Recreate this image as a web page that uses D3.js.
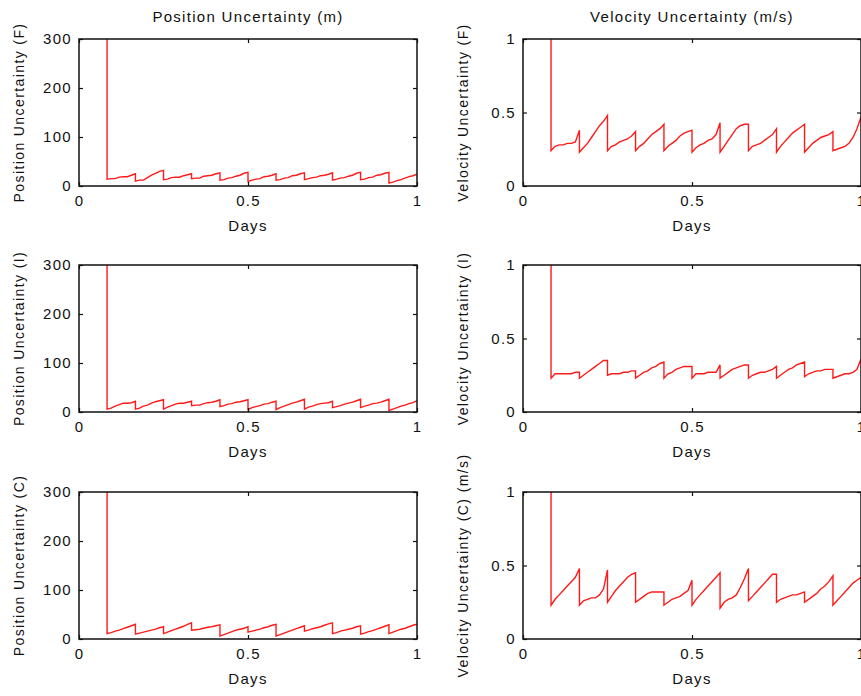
<!DOCTYPE html>
<html>
<head>
<meta charset="utf-8">
<script src="https://cdn.jsdelivr.net/npm/d3@7"></script>
<style>
  html, body { margin: 0; padding: 0; background: #fff; }
  svg { display: block; }
  text { font-family: "Liberation Sans", Arial, sans-serif; fill: #111; }
</style>
</head>
<body>
<script>
// Filter reset times (days): every two hours after the first fix
const resetDays = [0.083, 0.167, 0.25, 0.333, 0.417, 0.5, 0.583, 0.667, 0.75, 0.833, 0.917, 1.0];

const xTicks = [0, 0.5, 1];
const posTicks = [0, 100, 200, 300];
const velTicks = [0, 0.5, 1];

const posInitial = 300;
const velInitial = 1;

// Position uncertainty (m), one array per two-hour interval
const posF = [
  [14, 15, 15, 18, 19, 19, 22, 25],
  [10, 12, 12, 17, 22, 26, 30, 32],
  [13, 14, 17, 18, 18, 21, 23, 25],
  [15, 16, 16, 20, 21, 22, 25, 27],
  [12, 13, 16, 17, 20, 22, 26, 28],
  [9, 12, 14, 15, 19, 20, 22, 25],
  [12, 13, 16, 17, 21, 22, 25, 27],
  [13, 15, 17, 18, 21, 22, 24, 27],
  [12, 14, 16, 17, 20, 22, 26, 28],
  [13, 14, 17, 18, 22, 23, 26, 28],
  [6, 8, 11, 13, 16, 19, 21, 24]
];
const posI = [
  [6, 8, 12, 15, 18, 18, 19, 22],
  [6, 8, 12, 14, 18, 21, 23, 25],
  [6, 10, 13, 16, 18, 18, 20, 22],
  [13, 14, 14, 17, 19, 20, 22, 25],
  [11, 13, 16, 17, 20, 21, 23, 25],
  [5, 9, 11, 13, 16, 17, 20, 22],
  [5, 9, 12, 15, 18, 20, 23, 26],
  [6, 10, 12, 15, 17, 18, 19, 22],
  [9, 11, 13, 16, 18, 20, 23, 26],
  [9, 12, 14, 17, 18, 20, 23, 26],
  [3, 6, 9, 12, 14, 17, 19, 23]
];
const posC = [
  [11, 13, 16, 18, 21, 24, 27, 30],
  [10, 12, 14, 16, 18, 20, 23, 25],
  [11, 14, 17, 20, 23, 26, 30, 33],
  [18, 19, 20, 22, 24, 25, 27, 29],
  [6, 9, 12, 15, 18, 20, 22, 25],
  [14, 16, 18, 20, 23, 25, 28, 30],
  [6, 9, 12, 15, 18, 21, 24, 27],
  [16, 18, 21, 23, 25, 28, 31, 33],
  [11, 13, 16, 18, 20, 22, 25, 27],
  [10, 12, 15, 17, 20, 23, 26, 29],
  [11, 14, 17, 20, 22, 25, 28, 30]
];

// Velocity uncertainty (m/s), one array per two-hour interval
const velF = [
  [0.24, 0.27, 0.28, 0.28, 0.29, 0.29, 0.30, 0.38],
  [0.23, 0.26, 0.29, 0.33, 0.37, 0.41, 0.44, 0.48],
  [0.24, 0.27, 0.28, 0.30, 0.31, 0.32, 0.34, 0.37],
  [0.24, 0.27, 0.29, 0.32, 0.35, 0.37, 0.39, 0.42],
  [0.24, 0.27, 0.29, 0.31, 0.34, 0.36, 0.37, 0.38],
  [0.23, 0.26, 0.28, 0.29, 0.31, 0.32, 0.35, 0.43],
  [0.23, 0.27, 0.31, 0.35, 0.39, 0.41, 0.42, 0.42],
  [0.24, 0.27, 0.28, 0.29, 0.31, 0.33, 0.35, 0.39],
  [0.23, 0.27, 0.30, 0.33, 0.36, 0.38, 0.40, 0.42],
  [0.23, 0.26, 0.29, 0.31, 0.33, 0.34, 0.35, 0.37],
  [0.24, 0.25, 0.26, 0.27, 0.29, 0.33, 0.39, 0.47]
];
const velI = [
  [0.23, 0.26, 0.26, 0.26, 0.26, 0.26, 0.27, 0.27],
  [0.23, 0.25, 0.27, 0.29, 0.31, 0.33, 0.35, 0.35],
  [0.25, 0.26, 0.26, 0.26, 0.27, 0.27, 0.28, 0.28],
  [0.23, 0.25, 0.27, 0.28, 0.30, 0.31, 0.33, 0.34],
  [0.23, 0.26, 0.27, 0.29, 0.30, 0.31, 0.31, 0.31],
  [0.23, 0.26, 0.26, 0.26, 0.27, 0.27, 0.27, 0.32],
  [0.23, 0.25, 0.27, 0.29, 0.30, 0.31, 0.32, 0.32],
  [0.23, 0.25, 0.26, 0.27, 0.27, 0.28, 0.29, 0.31],
  [0.23, 0.25, 0.27, 0.29, 0.30, 0.32, 0.33, 0.34],
  [0.24, 0.26, 0.27, 0.28, 0.28, 0.29, 0.29, 0.29],
  [0.23, 0.24, 0.25, 0.26, 0.26, 0.27, 0.29, 0.36]
];
const velC = [
  [0.23, 0.27, 0.30, 0.33, 0.36, 0.39, 0.42, 0.48],
  [0.23, 0.26, 0.27, 0.28, 0.28, 0.30, 0.34, 0.47],
  [0.25, 0.29, 0.33, 0.36, 0.39, 0.42, 0.44, 0.45],
  [0.25, 0.27, 0.29, 0.31, 0.32, 0.32, 0.32, 0.32],
  [0.23, 0.25, 0.27, 0.28, 0.29, 0.31, 0.33, 0.40],
  [0.23, 0.27, 0.30, 0.33, 0.36, 0.39, 0.42, 0.45],
  [0.21, 0.25, 0.27, 0.28, 0.30, 0.35, 0.41, 0.48],
  [0.26, 0.29, 0.32, 0.35, 0.38, 0.41, 0.44, 0.44],
  [0.25, 0.27, 0.28, 0.29, 0.30, 0.30, 0.31, 0.32],
  [0.25, 0.27, 0.29, 0.31, 0.34, 0.36, 0.39, 0.43],
  [0.23, 0.26, 0.29, 0.32, 0.35, 0.38, 0.40, 0.42]
];

const W = 861, H = 696;
const colX = [79, 523];
const plotW = 338;
const rowY = [39, 265, 492];
const plotH = 147;

const panels = [
  { col: 0, row: 0, segs: posF, init: posInitial, max: 300, ticks: posTicks, ylabel: "Position Uncertainty (F)", title: "Position Uncertainty (m)" },
  { col: 1, row: 0, segs: velF, init: velInitial, max: 1, ticks: velTicks, ylabel: "Velocity Uncertainty (F)", title: "Velocity Uncertainty (m/s)" },
  { col: 0, row: 1, segs: posI, init: posInitial, max: 300, ticks: posTicks, ylabel: "Position Uncertainty (I)" },
  { col: 1, row: 1, segs: velI, init: velInitial, max: 1, ticks: velTicks, ylabel: "Velocity Uncertainty (I)" },
  { col: 0, row: 2, segs: posC, init: posInitial, max: 300, ticks: posTicks, ylabel: "Position Uncertainty (C)" },
  { col: 1, row: 2, segs: velC, init: velInitial, max: 1, ticks: velTicks, ylabel: "Velocity Uncertainty (C) (m/s)" }
];

// Expand the per-interval samples into (day, value) points; each interval
// spans from one reset to the next, so the drop at a reset is vertical.
function toPoints(segs, init) {
  const pts = [{ t: resetDays[0], v: init }];
  segs.forEach((vals, k) => {
    const t0 = resetDays[k], t1 = resetDays[k + 1];
    vals.forEach((v, j) => {
      pts.push({ t: t0 + (t1 - t0) * j / (vals.length - 1), v });
    });
  });
  return pts;
}

const svg = d3.select("body").append("svg")
  .attr("width", W).attr("height", H);

const fmt = d => String(d);
const fontSize = 15;
const spacing = "1.3px";

panels.forEach((p, i) => {
  const x0 = colX[p.col], y0 = rowY[p.row];
  const x = d3.scaleLinear().domain([0, 1]).range([x0, x0 + plotW]);
  const y = d3.scaleLinear().domain([0, p.max]).range([y0 + plotH, y0]);

  const g = svg.append("g");

  g.append("clipPath").attr("id", "clip" + i)
    .append("rect").attr("x", x0).attr("y", y0).attr("width", plotW).attr("height", plotH);

  const line = d3.line().x(d => x(d.t)).y(d => y(d.v));
  g.append("path")
    .datum(toPoints(p.segs, p.init))
    .attr("clip-path", `url(#clip${i})`)
    .attr("fill", "none")
    .attr("stroke", "#ff1a1a")
    .attr("stroke-width", 1.4)
    .attr("stroke-linejoin", "miter")
    .attr("d", line);

  // Axes: inward ticks on all four sides, labels on bottom and left
  const styleAxis = sel => {
    sel.select(".domain").remove();
    sel.selectAll(".tick line").attr("stroke", "#111").attr("stroke-width", 1.2);
    sel.selectAll(".tick text")
      .attr("font-size", fontSize)
      .style("letter-spacing", spacing)
      .style("font-family", "'Liberation Sans', Arial, sans-serif")
      .attr("fill", "#111");
  };

  g.append("g").attr("transform", `translate(0,${y0 + plotH})`)
    .call(d3.axisBottom(x).tickValues(xTicks).tickFormat(fmt).tickSize(-4).tickPadding(9))
    .call(styleAxis);
  g.append("g").attr("transform", `translate(0,${y0})`)
    .call(d3.axisTop(x).tickValues(xTicks).tickFormat("").tickSize(-4))
    .call(styleAxis);
  g.append("g").attr("transform", `translate(${x0},0)`)
    .call(d3.axisLeft(y).tickValues(p.ticks).tickFormat(fmt).tickSize(-4).tickPadding(7))
    .call(styleAxis);
  g.append("g").attr("transform", `translate(${x0 + plotW},0)`)
    .call(d3.axisRight(y).tickValues(p.ticks).tickFormat("").tickSize(-4))
    .call(styleAxis);

  g.append("rect")
    .attr("x", x0).attr("y", y0).attr("width", plotW).attr("height", plotH)
    .attr("fill", "none").attr("stroke", "#111").attr("stroke-width", 1.5);

  g.append("text")
    .attr("x", x0 + plotW / 2).attr("y", y0 + plotH + 45)
    .attr("text-anchor", "middle").attr("font-size", fontSize)
    .style("letter-spacing", spacing)
    .text("Days");

  g.append("text")
    .attr("transform", `translate(${x0 - 55},${y0 + plotH / 2}) rotate(-90)`)
    .attr("text-anchor", "middle").attr("font-size", 14)
    .style("letter-spacing", "1.4px")
    .text(p.ylabel);

  if (p.title) {
    g.append("text")
      .attr("x", x0 + plotW / 2).attr("y", y0 - 17)
      .attr("text-anchor", "middle").attr("font-size", fontSize)
      .style("letter-spacing", spacing)
      .text(p.title);
  }
});
</script>
</body>
</html>
